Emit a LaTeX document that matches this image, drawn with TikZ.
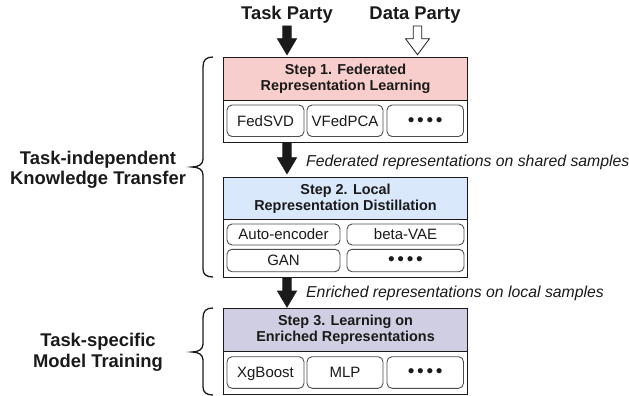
\documentclass[tikz,border=0pt]{standalone}
\usepackage{fontspec}
\setmainfont{Liberation Sans}
\usetikzlibrary{calc}
\definecolor{hpink}{HTML}{F8CECC}
\definecolor{hblue}{HTML}{DAE8FC}
\definecolor{hpurple}{HTML}{D0CEE2}
\definecolor{ink}{HTML}{1A1A1A}
\definecolor{subline}{HTML}{4D4D4D}
\newcommand{\fourdots}{{\fontsize{19}{19}\selectfont •\hspace{2.7pt}•\hspace{2.7pt}•\hspace{2.7pt}•}}
\begin{document}
\begin{tikzpicture}[x=1pt,y=1pt,
  outerbox/.style={draw=ink, line width=1.1pt, fill=white, anchor=north west, inner sep=0, minimum width=244},
  headbox/.style={draw=ink, line width=1.1pt, anchor=north west, inner sep=0, minimum width=244, minimum height=43},
  headtext/.style={text=ink, font=\bfseries\fontsize{14.4}{16}\selectfont, align=center, inner sep=0},
  subbox/.style={draw=subline, line width=0.9pt, rounded corners=5pt, inner sep=0, text=ink,
    font=\fontsize{15}{17}\selectfont, text height=10.7pt, text depth=0pt},
  biglabel/.style={text=ink, font=\bfseries\fontsize{18.4}{20.3}\selectfont, align=center, inner sep=0},
  flowlabel/.style={text=ink, font=\itshape\fontsize{15.8}{18}\selectfont, inner sep=0, anchor=base west},
  bracepath/.style={draw=ink, line width=1.3pt},
  blockarrow/.style={line width=0.8pt, to path={
    ($(\tikztostart)+(-4.2,0)$) -- ($(\tikztotarget)+(-4.2,16)$) -- ($(\tikztotarget)+(-#1,16)$)
    -- (\tikztotarget) -- ($(\tikztotarget)+(#1,16)$) -- ($(\tikztotarget)+(4.2,16)$)
    -- ($(\tikztostart)+(4.2,0)$) -- cycle}},
  solidarrow/.style={blockarrow=9.5, fill=ink, draw=ink},
  hollowarrow/.style={blockarrow=12, fill=white, draw=ink}
]
\useasboundingbox (0,0) rectangle (629,-396);

% top labels
\node[biglabel, anchor=base] (task) at (287,-19.5) {Task Party};
\node[biglabel, anchor=base] (data) at (415,-19.5) {Data Party};

% Step 1
\node[outerbox, minimum height=85] (b1) at (223,-57) {};
\node[headbox, fill=hpink] (h1) at (223,-57) {};
\node[headtext] (t1) at (h1.center) {Step 1. Federated\\Representation Learning};
\node[subbox, minimum width=77, minimum height=31.5] (s11) at (265.5,-120.75) {FedSVD};
\node[subbox, minimum width=76, minimum height=31.5] (s12) at (345,-120.75) {VFedPCA};
\node[subbox, minimum width=76.5, minimum height=31.5] (s13) at (425.25,-120.75) {\fourdots};

% Step 2
\node[outerbox, minimum height=100] (b2) at (223,-177) {};
\node[headbox, fill=hblue, minimum height=41.5] (h2) at (223,-177) {};
\node[headtext] (t2) at (h2.center) {Step 2. Local\\Representation Distillation};
\node[subbox, minimum width=113, minimum height=21] (s21) at (283.5,-234.5) {Auto-encoder};
\node[subbox, minimum width=117, minimum height=21] (s22) at (405.5,-234.5) {beta-VAE};
\node[subbox, minimum width=113, minimum height=22.4] (s23) at (283.5,-260.5) {GAN};
\node[subbox, minimum width=117, minimum height=22.4] (s24) at (405.5,-260.5) {\fourdots};

% Step 3
\node[outerbox, minimum height=86] (b3) at (223,-308) {};
\node[headbox, fill=hpurple] (h3) at (223,-308) {};
\node[headtext] (t3) at (h3.center) {Step 3. Learning on\\Enriched Representations};
\node[subbox, minimum width=77, minimum height=31.6] (s31) at (265.5,-372.5) {XgBoost};
\node[subbox, minimum width=76, minimum height=31.6] (s32) at (345,-372.5) {MLP};
\node[subbox, minimum width=76.5, minimum height=31.6] (s33) at (425.25,-372.5) {\fourdots};

% arrows
\coordinate (a1s) at (287,-26);
\coordinate (a1t) at (287,-54.7);
\coordinate (a0s) at (417.5,-26);
\coordinate (a0t) at (417.5,-54.7);
\coordinate (a2s) at (b1.south -| a1s);
\coordinate (a2t) at (287,-173.7);
\coordinate (a3s) at (b2.south -| a1s);
\coordinate (a3t) at (287,-307);
\draw[solidarrow] (a1s) to (a1t);
\draw[hollowarrow] (a0s) to (a0t);
\draw[solidarrow] (a2s) to (a2t);
\draw[solidarrow] (a3s) to (a3t);

\node[flowlabel] (f1) at (306,-166) {Federated representations on shared samples};
\node[flowlabel] (f2) at (306,-297.5) {Enriched representations on local samples};

% braces
\draw[bracepath] (213,-57) .. controls (206,-57) and (203,-60) .. (203,-67) -- (203,-159)
  .. controls (203,-164) and (199,-167) .. (192,-167)
  .. controls (199,-167) and (203,-170) .. (203,-175) -- (203,-269)
  .. controls (203,-274) and (206,-277) .. (213,-277);
\draw[bracepath] (213,-308) .. controls (206,-308) and (203,-311) .. (203,-318) -- (203,-344)
  .. controls (203,-349) and (199,-352) .. (192,-352)
  .. controls (199,-352) and (203,-355) .. (203,-360) -- (203,-387)
  .. controls (203,-392) and (206,-395) .. (213,-395);

% left labels
\node[biglabel] (l1) at (98,-170) {Task-independent\\Knowledge Transfer};
\node[biglabel] (l2) at (98,-352.4) {Task-specific\\Model Training};
\end{tikzpicture}
\end{document}
